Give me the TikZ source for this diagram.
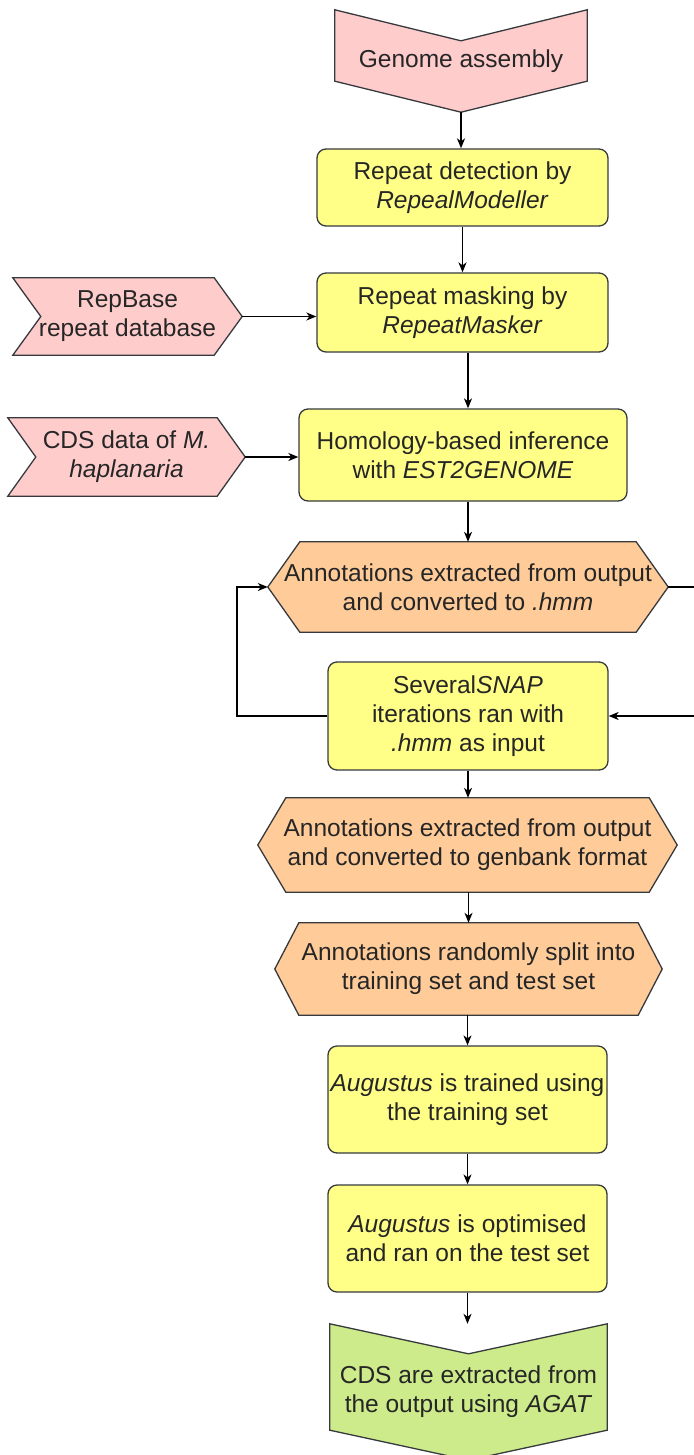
\documentclass[tikz,border=0pt]{standalone}
\usepackage{fontspec}
\setmainfont{Liberation Sans}
\usetikzlibrary{calc,backgrounds,arrows.meta}

\definecolor{edge}{HTML}{36393D}
\definecolor{ink}{HTML}{262626}
\definecolor{pinkf}{HTML}{FFCCCC}
\definecolor{yelf}{HTML}{FFFF88}
\definecolor{oranf}{HTML}{FFCC99}
\definecolor{greenf}{HTML}{CDEB8B}

\newcommand\labelsize{\fontsize{24.5}{29}\selectfont}

\tikzset{
  lbl/.style={inner sep=0pt, align=center, font=\labelsize, text=ink},
  roundbox/.style={lbl, draw=edge, fill=yelf, line width=1.3pt, rounded corners=9pt},
  outline/.style={draw=edge, line width=1.3pt, line join=miter},
  flow/.style={-{Stealth[length=10pt,width=8pt,inset=3pt]}, line width=1.3pt, draw=black},
}

% hexagon pointing left and right, chamfer #2
\newcommand\hexagonout[3]{%
  \filldraw[outline, fill=#3] (#1.west) -- ($(#1.north west)+(#2,0)$)
    -- ($(#1.north east)+(-#2,0)$) -- (#1.east)
    -- ($(#1.south east)+(-#2,0)$) -- ($(#1.south west)+(#2,0)$) -- cycle;}
% chevron pointing down, depth #2
\newcommand\chevrondown[3]{%
  \filldraw[outline, fill=#3] (#1.north west) -- ($(#1.north)+(0,#2)$)
    -- (#1.north east) -- ($(#1.south east)+(0,-#2)$) -- (#1.south)
    -- ($(#1.south west)+(0,-#2)$) -- cycle;}
% chevron pointing right, depth #2
\newcommand\chevronright[3]{%
  \filldraw[outline, fill=#3] (#1.north west) -- ($(#1.north east)+(-#2,0)$)
    -- (#1.east) -- ($(#1.south east)+(-#2,0)$) -- (#1.south west)
    -- ($(#1.west)+(#2,0)$) -- cycle;}

\begin{document}
\begin{tikzpicture}[x=1pt, y=-1pt]
\path[use as bounding box] (0,0) rectangle (693,1455);

% main column
\node[lbl, minimum width=252pt, minimum height=102pt] (genome) at (461,61) {Genome assembly};
\node[roundbox, minimum width=291pt, minimum height=77pt] (detect) at (462.5,187.5)
  {Repeat detection by\\\textit{RepealModeller}};
\node[roundbox, minimum width=291pt, minimum height=79pt] (mask) at (462.5,312.5)
  {Repeat masking by\\\textit{RepeatMasker}};
\node[roundbox, minimum width=328pt, minimum height=92pt] (homol) at (463,455)
  {Homology-based inference\\with \textit{EST2GENOME}};
\node[lbl, minimum width=400pt, minimum height=90pt] (hmm) at (468,587)
  {Annotations extracted from output\\and converted to \textit{.hmm}};
\node[roundbox, minimum width=280pt, minimum height=108pt] (snap) at (468,716)
  {Several\textit{SNAP}\\iterations ran with\\\textit{.hmm} as input};
\node[lbl, minimum width=419pt, minimum height=94pt] (genbank) at (467.5,845)
  {Annotations extracted from output\\and converted to genbank format};
\node[lbl, minimum width=387pt, minimum height=92pt] (split) at (468.5,969)
  {Annotations randomly split into\\training set and test set};
\node[roundbox, minimum width=279pt, minimum height=107pt] (train) at (467.5,1099.5)
  {\textit{Augustus} is trained using\\the training set};
\node[roundbox, minimum width=279pt, minimum height=107pt] (optim) at (467.5,1238.5)
  {\textit{Augustus} is optimised\\and ran on the test set};
\node[lbl, minimum width=277pt, minimum height=136pt] (agat) at (468.5,1392)
  {CDS are extracted from\\the output using \textit{AGAT}};

% inputs on the left
\node[lbl, minimum width=229pt, minimum height=77pt] (repbase) at (127.5,316.5)
  {RepBase\\repeat database};
\node[lbl, minimum width=237pt, minimum height=78pt] (cds) at (126.5,457)
  {CDS data of \textit{M.}\\\textit{haplanaria}};

% shape outlines behind the labels
\begin{pgfonlayer}{background}
  \chevrondown{genome}{31}{pinkf}
  \chevronright{repbase}{28}{pinkf}
  \chevronright{cds}{28}{pinkf}
  \hexagonout{hmm}{32}{oranf}
  \hexagonout{genbank}{28}{oranf}
  \hexagonout{split}{24}{oranf}
  \chevrondown{agat}{30}{greenf}
\end{pgfonlayer}

% connectors
\coordinate (loopL) at (237,0);
\coordinate (loopR) at (705,0);
\draw[flow] (genome.south) -- (genome.south |- detect.north);
\draw[flow] (detect.south) -- (mask.north);
\draw[flow] (mask.south -| hmm.center) -- (homol.north -| hmm.center);
\draw[flow] (homol.south -| hmm.center) -- (hmm.north);
\draw[flow] (repbase.east) -- (repbase.east -| mask.west);
\draw[flow] (cds.east) -- (cds.east -| homol.west);
\draw[flow] (snap.west) -- (snap.west -| loopL) |- (hmm.west);
\draw[flow] (hmm.east) -- (hmm.east -| loopR) |- (snap.east);
\draw[flow] (snap.south) -- (snap.south |- genbank.north);
\draw[flow] (genbank.south -| split.center) -- (split.north);
\draw[flow] (split.south -| train.center) -- (train.north);
\draw[flow] (train.south) -- (optim.north);
\draw[flow] (optim.south) -- (optim.south |- agat.north);
\end{tikzpicture}
\end{document}
